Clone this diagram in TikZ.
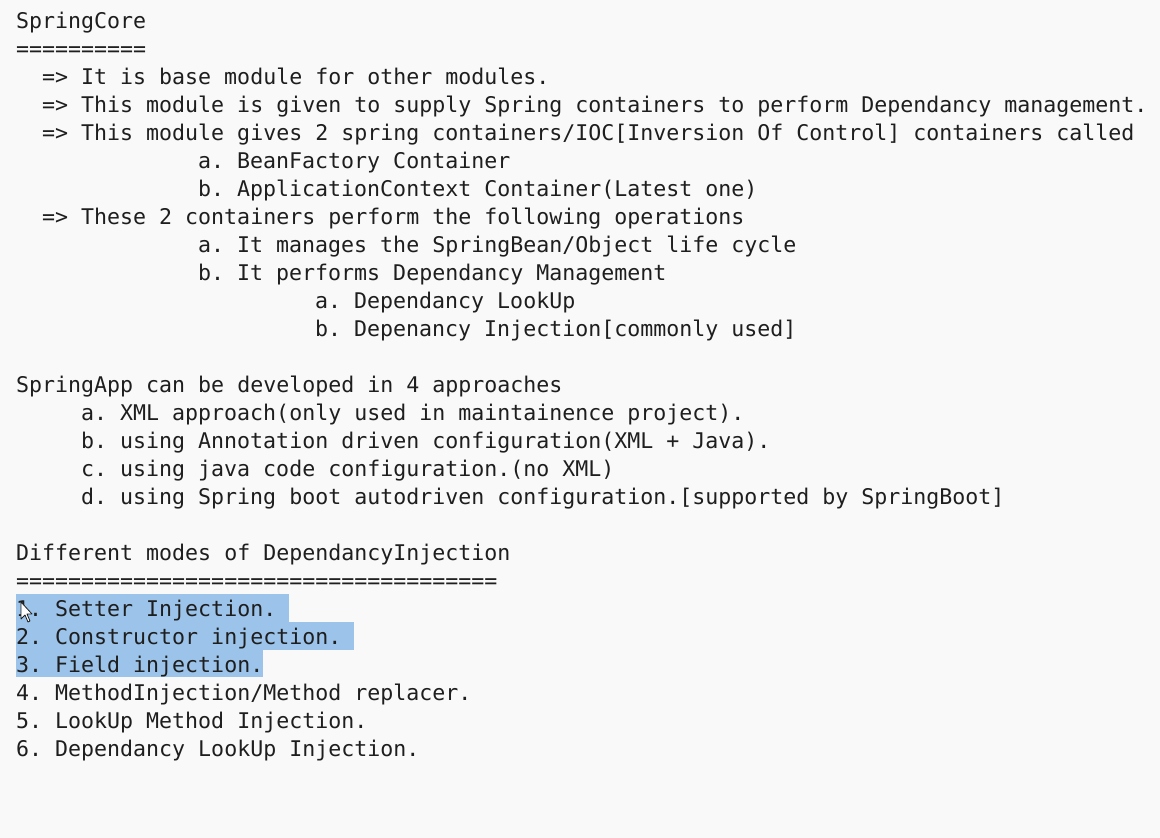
\documentclass[tikz,border=0pt]{standalone}
\usepackage{fontspec}
\newfontfamily\codefont{DejaVu Sans Mono}
\frenchspacing
\definecolor{editorbg}{RGB}{249,249,249}
\definecolor{codeink}{RGB}{30,30,30}
\definecolor{selblue}{RGB}{156,196,234}

\begin{document}
\begin{tikzpicture}[x=1pt,y=-1pt,
    codeline/.style={anchor=base west, inner sep=0pt, text=codeink, font=\codefont\fontsize{21.6}{26}\selectfont\frenchspacing}]
            \useasboundingbox[fill=editorbg] (0,0) rectangle (1160,838);

            % Selection
            \fill[selblue] (16,594) rectangle (289,622);
            \fill[selblue] (16,622) rectangle (354,650);
            \fill[selblue] (16,650) rectangle (263,677);

            % SpringCore
            \node[codeline] (core) at (16,28) {SpringCore};
            \node[codeline] (coreline) at (16,56) {==========};
            \node[codeline] (base) at (42,84) {=> It is base module for other modules.};
            \node[codeline] (supply) at (42,112) {=> This module is given to supply Spring containers to perform Dependancy management.};
            \node[codeline] (gives) at (42,140) {=> This module gives 2 spring containers/IOC[Inversion Of Control] containers called};
            \node[codeline] (bf) at (198,168) {a. BeanFactory Container};
            \node[codeline] (ac) at (198,196) {b. ApplicationContext Container(Latest one)};
            \node[codeline] (ops) at (42,224) {=> These 2 containers perform the following operations};
            \node[codeline] (life) at (198,252) {a. It manages the SpringBean/Object life cycle};
            \node[codeline] (mgmt) at (198,280) {b. It performs Dependancy Management};
            \node[codeline] (lookup) at (315,308) {a. Dependancy LookUp};
            \node[codeline] (inject) at (315,336) {b. Depenancy Injection[commonly used]};

            % Approaches
            \node[codeline] (app) at (16,392) {SpringApp can be developed in 4 approaches};
            \node[codeline] (xml) at (81,420) {a. XML approach(only used in maintainence project).};
            \node[codeline] (anno) at (81,448) {b. using Annotation driven configuration(XML + Java).};
            \node[codeline] (java) at (81,476) {c. using java code configuration.(no XML)};
            \node[codeline] (boot) at (81,504) {d. using Spring boot autodriven configuration.[supported by SpringBoot]};

            % Modes
            \node[codeline] (modes) at (16,560) {Different modes of DependancyInjection};
            \node[codeline] (modesline) at (16,588) {=====================================};
            \node[codeline] (m1) at (16,616) {1. Setter Injection.};
            \node[codeline] (m2) at (16,644) {2. Constructor injection.};
            \node[codeline] (m3) at (16,672) {3. Field injection.};
            \node[codeline] (m4) at (16,700) {4. MethodInjection/Method replacer.};
            \node[codeline] (m5) at (16,728) {5. LookUp Method Injection.};
            \node[codeline] (m6) at (16,756) {6. Dependancy LookUp Injection.};

            % Mouse pointer
            \draw[fill=white, draw=codeink, line width=0.8pt, line join=round]
                (21,602) -- (21,619) -- (25,615) -- (28,622) -- (30,621) -- (27,614) -- (32,614) -- cycle;

        \end{tikzpicture}
\end{document}
